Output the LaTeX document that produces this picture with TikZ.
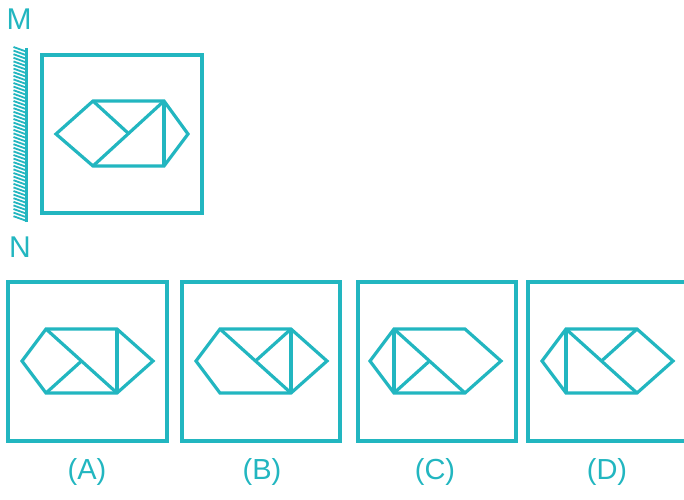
\documentclass[tikz,border=0pt]{standalone}
\usepackage{fontspec}
\setmainfont{Liberation Sans}
\definecolor{teal}{RGB}{34,182,192}

\begin{document}
\begin{tikzpicture}[x=1pt, y=-1pt, line join=miter,
    figline/.style={draw=teal, line width=3.2pt},
    framebox/.style={draw=teal, line width=3.4pt},
    tag/.style={text=teal, font=\fontsize{29}{31}\selectfont},
    pole/.style={text=teal, font=\fontsize{30}{32}\selectfont}]
    \useasboundingbox (0,0) rectangle (684,499);
    \clip (0,0) rectangle (684,499);

    % Mirror MN with its hatching
    \node[pole] (m) at (19,19) {M};
    \node[pole] (n) at (20,247) {N};
    \foreach \y in {47,50.6,...,218} {
        \draw[teal, line width=1.8pt] (13.5,\y) -- (26,\y+4.5);
    }
    \draw[teal, line width=2.2pt] (26.5,48) -- (26.5,222);

    % Question figure
    \draw[framebox] (42,55) rectangle (202,213);
    \begin{scope}[shift={(93,101)}]
        \coordinate (qtl) at (0,0);
        \coordinate (qtr) at (71,0);
        \coordinate (qbr) at (71,65);
        \coordinate (qbl) at (0,65);
        \draw[figline] (-37,33) -- (qtl) -- (qtr) -- (95,33) -- (qbr) -- (qbl) -- cycle;
        \draw[figline] (qtr) -- (qbl);
        \draw[figline] (qtl) -- (35.5,32.5);
        \draw[figline] (qtr) -- (qbr);
    \end{scope}

    % Answer boxes
    \draw[framebox] (8,282) rectangle (167,441);
    \draw[framebox] (182,282) rectangle (340,441);
    \draw[framebox] (358,282) rectangle (516,441);
    \draw[framebox] (528,282) rectangle (687,441);

    % Outlines of the four answer figures
    \foreach \sx/\nm in {46/a, 220/b, 394/c, 566/d} {
        \begin{scope}[shift={(\sx,329)}]
            \draw[figline] (-24,32) -- (0,0) -- (71,0) -- (107,32) -- (71,64) -- (0,64) -- cycle;
            \coordinate (\nm tl) at (0,0);
            \coordinate (\nm tr) at (71,0);
            \coordinate (\nm br) at (71,64);
            \coordinate (\nm bl) at (0,64);
            \coordinate (\nm mid) at (35.5,32);
        \end{scope}
    }

    % (A)
    \draw[figline] (atl) -- (abr);
    \draw[figline] (abl) -- (amid);
    \draw[figline] (atr) -- (abr);
    % (B)
    \draw[figline] (btl) -- (bbr);
    \draw[figline] (btr) -- (bmid);
    \draw[figline] (btr) -- (bbr);
    % (C)
    \draw[figline] (ctl) -- (cbl);
    \draw[figline] (ctl) -- (cbr);
    \draw[figline] (cbl) -- (cmid);
    % (D)
    \draw[figline] (dtl) -- (dbl);
    \draw[figline] (dtl) -- (dbr);
    \draw[figline] (dtr) -- (dmid);

    % Labels under the boxes
    \node[tag] (la) at (87,472) {(A)};
    \node[tag] (lb) at (262,472) {(B)};
    \node[tag] (lc) at (435,472) {(C)};
    \node[tag] (ld) at (607,472) {(D)};
\end{tikzpicture}
\end{document}
